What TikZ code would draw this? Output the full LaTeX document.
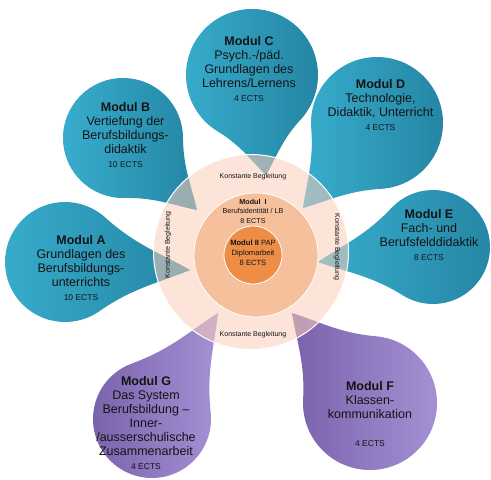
\documentclass[tikz,border=0pt]{standalone}
\usepackage{fontspec}
\setmainfont{Liberation Sans}
\usetikzlibrary{calc}
\definecolor{tealA}{HTML}{38ADCD}
\definecolor{tealB}{HTML}{2585A4}
\definecolor{purA}{HTML}{7A62AC}
\definecolor{purB}{HTML}{A591D4}
\definecolor{ringC}{HTML}{F9CDB9}
\definecolor{midC}{HTML}{F6C09C}
\definecolor{coreC}{HTML}{EE8D46}
\definecolor{txt}{HTML}{141414}
% teardrop: #1 cx, #2 cy, #3 radius, #4 tip x, #5 tip y, #6 style
\newcommand\teardrop[6]{%
  \pgfmathsetmacro\tdA{atan2(#5-#2,#4-#1)}%
  \pgfmathsetmacro\tdD{veclen(#4-#1,#5-#2)}%
  \pgfmathsetmacro\tdH{asin(#3/\tdD)-2}%
  \pgfmathsetmacro\tdB{acos(#3/\tdD)-10}%
  \pgfmathsetmacro\tdL{veclen(\tdD-#3*cos(\tdB),#3*sin(\tdB))}%
  \pgfmathsetmacro\tdK{0.42*\tdL}%
  \pgfmathsetmacro\tdJ{0.3*\tdL}%
  \pgfmathsetmacro\tdPa{\tdA+\tdB}%
  \pgfmathsetmacro\tdPt{\tdA+\tdB-90}%
  \pgfmathsetmacro\tdTp{\tdA+180-\tdH}%
  \pgfmathsetmacro\tdMa{\tdA-\tdB+360}%
  \pgfmathsetmacro\tdMt{\tdA-\tdB+90}%
  \pgfmathsetmacro\tdTm{\tdA+180+\tdH}%
  \path[#6] (#4,#5) .. controls ($(#4,#5)+(\tdTp:\tdJ)$) and ($(#1,#2)+(\tdPa:#3)+(\tdPt:\tdK)$) .. ($(#1,#2)+(\tdPa:#3)$)
     arc[start angle=\tdPa, end angle=\tdMa, radius=#3]
     .. controls ($(#1,#2)+(\tdMa:#3)+(\tdMt:\tdK)$) and ($(#4,#5)+(\tdTm:\tdJ)$) .. (#4,#5) -- cycle;
}
\newcommand\ectsline[1]{{\fontsize{8.5}{10}\selectfont #1}}
\begin{document}
\begin{tikzpicture}[x=1pt,y=-1pt,
  tealdrop/.style={left color=tealA, right color=tealB},
  purdrop/.style={left color=purA, right color=purB},
  modtext/.style={align=center, text=txt, inner sep=0pt, font=\fontsize{12.5}{14}\selectfont},
  ringtext/.style={text=txt, inner sep=0pt, font=\fontsize{7}{8.5}\selectfont},
  coretext/.style={align=center, text=txt, inner sep=0pt, font=\fontsize{7.2}{9.5}\selectfont},
  disc/.style={circle, draw=white, line width=0.8pt, inner sep=0pt}
]
\useasboundingbox (0,0) rectangle (491,480);
% petals
\teardrop{65}{262}{60}{190}{270}{tealdrop}
\teardrop{123}{138}{60}{197}{210}{tealdrop}
\teardrop{252}{75}{66}{266}{175}{tealdrop}
\teardrop{377}{123}{66}{303}{208}{tealdrop}
\teardrop{433}{247}{57}{318}{262}{tealdrop}
\teardrop{152}{419}{59}{218}{313}{purdrop}
\teardrop{370}{403}{67}{292}{313}{purdrop}
% centre circles
\node[disc, fill=ringC, fill opacity=0.55, line width=1pt, minimum size=195pt] (ring) at (251,252) {};
\node[disc, fill=midC, minimum size=124pt] (mid) at (256,255) {};
\node[disc, fill=coreC, minimum size=58pt] (core) at (253,255) {};
% ring labels
\node[ringtext] (kt) at (253,177) {Konstante Begleitung};
\node[ringtext] (kb) at (253,335) {Konstante Begleitung};
\node[ringtext, rotate=90] (kl) at (168,245) {Konstante Begleitung};
\node[ringtext, rotate=-90] (kr) at (337,247) {Konstante Begleitung};
\node[coretext] (m1) at (253,211) {\textbf{Modul\ \ I}\\Berufsidentität / LB\\8 ECTS};
\node[coretext, font=\fontsize{7.6}{10}\selectfont] (m2) at (253,253) {\textbf{Modul II} PAP\\Diplomarbeit\\8 ECTS};
% petal texts
\node[modtext] (ta) at (81,268.5) {\textbf{Modul A}\\Grundlagen des\\Berufsbildungs-\\unterrichts\\\ectsline{10 ECTS}};
\node[modtext] (tb) at (125.5,135) {\textbf{Modul B}\\Vertiefung der\\Berufsbildungs-\\didaktik\\\ectsline{10 ECTS}};
\node[modtext] (tc) at (249,69.5) {\textbf{Modul C}\\Psych.-/päd.\\Grundlagen des\\Lehrens/Lernens\\\ectsline{4 ECTS}};
\node[modtext] (td) at (380.5,105) {\textbf{Modul D}\\Technologie,\\Didaktik, Unterricht\\\ectsline{4 ECTS}};
\node[modtext] (te) at (429,235) {\textbf{Modul E}\\Fach- und\\Berufsfelddidaktik\\\ectsline{8 ECTS}};
\node[modtext] (tf) at (370,414) {\textbf{Modul F}\\Klassen-\\kommunikation\\[14pt]\ectsline{4 ECTS}};
\node[modtext] (tg) at (146,423) {\textbf{Modul G}\\Das System\\Berufsbildung –\\Inner-\\/ausserschulische\\Zusammenarbeit\\\ectsline{4 ECTS}};
\end{tikzpicture}
\end{document}
